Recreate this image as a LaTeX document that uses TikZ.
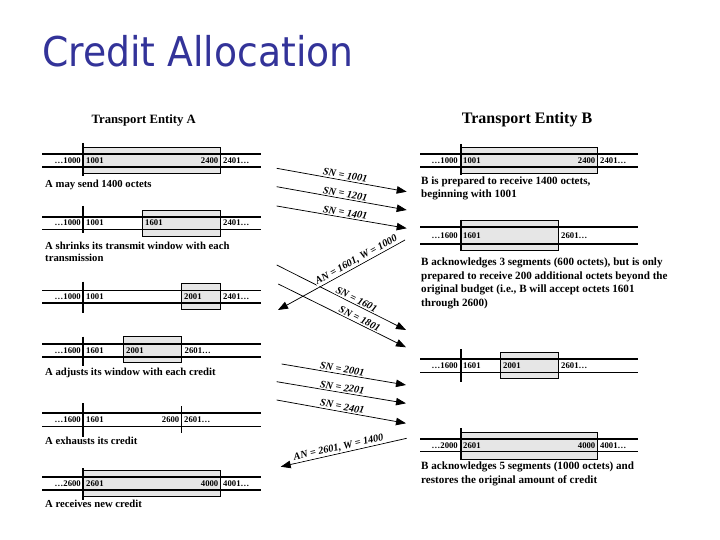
\documentclass[tikz,border=0pt]{standalone}
\usepackage{fontspec}
\setmainfont{Liberation Serif}
\newfontfamily\titlefont{DejaVu Sans}
\usetikzlibrary{arrows.meta}
\definecolor{titleblue}{RGB}{51,51,153}
\definecolor{winfill}{RGB}{230,230,230}
\begin{document}
\begin{tikzpicture}[x=1pt,y=-1pt,
  thickln/.style={line width=2.2pt},
  thinln/.style={line width=0.8pt},
  win/.style={fill=winfill,draw=black,line width=0.8pt},
  tickln/.style={line width=2.2pt},
  num/.style={font=\bfseries\fontsize{8.7}{10}\selectfont,inner sep=0pt},
  numl/.style={num,anchor=base east},
  numr/.style={num,anchor=base west},
  capt/.style={font=\bfseries\fontsize{10.7}{12.5}\selectfont,inner sep=0pt,anchor=base west},
  captb/.style={font=\bfseries\fontsize{11.1}{12.5}\selectfont,inner sep=0pt,anchor=base west},
  hdr/.style={font=\bfseries\fontsize{#1}{#1}\selectfont,inner sep=0pt,anchor=base},
  arr/.style={line width=0.75pt,-{Triangle[length=10pt,width=7.5pt]}},
  arrl/.style={line width=0.75pt,{Triangle[length=10pt,width=7.5pt]}-},
  lab/.style={font=\bfseries\itshape\fontsize{10.3}{11}\selectfont,fill=white,inner sep=1pt,sloped,above=0.3pt}
]
\useasboundingbox (0,0) rectangle (720,540);

% title
\node[anchor=base west,inner sep=0pt,text=titleblue,font=\titlefont\fontsize{41}{41}\selectfont] (title) at (42,67) {\scalebox{0.92}[1]{Credit Allocation}};

% headers
\node[hdr=12.7] (hA) at (143.7,124) {Transport Entity A};
\node[hdr=16] (hB) at (527,123.5) {Transport Entity B};

% ---------- Entity A ----------
% A1
\filldraw[win] (83.3,147.3) rectangle (220.7,173.3);
\draw[thickln] (42,154) -- (260.7,154);
\draw[thickln] (42,166.7) -- (260.7,166.7);
\draw[tickln] (83.3,143) -- (83.3,176);
\node[numl] (a1l) at (81,163.2) {…1000};
\node[numr] (a1a) at (86,163.2) {1001};
\node[numl] (a1b) at (218.5,163.2) {2400};
\node[numr] (a1r) at (223,163.2) {2401…};
\node[capt] (ca1) at (45,188) {A may send 1400 octets};

% A2
\filldraw[win] (142.7,210) rectangle (220.7,236.7);
\draw[thickln] (42,216.7) -- (260.7,216.7);
\draw[thinln] (42,229.3) -- (260.7,229.3);
\draw[tickln] (83.3,206) -- (83.3,232.7);
\node[numl] (a2l) at (81,225.8) {…1000};
\node[numr] (a2a) at (86,225.8) {1001};
\node[numr] (a2b) at (145,225.8) {1601};
\node[numr] (a2r) at (223,225.8) {2401…};
\node[capt] (ca2) at (45,249) {A shrinks its transmit window with each};
\node[capt] (ca2b) at (45,261) {transmission};

% A3
\filldraw[win] (181.7,283.3) rectangle (220.7,309.3);
\draw[thinln] (42,290) -- (260.7,290);
\draw[thickln] (42,303.3) -- (260.7,303.3);
\draw[tickln] (83.3,281.7) -- (83.3,313.3);
\node[numl] (a3l) at (81,299.5) {…1000};
\node[numr] (a3a) at (86,299.5) {1001};
\node[numr] (a3b) at (184,299.5) {2001};
\node[numr] (a3r) at (223,299.5) {2401…};

% A4
\filldraw[win] (123.3,336.7) rectangle (181.7,362.7);
\draw[thickln] (42,344) -- (260.7,344);
\draw[thickln] (42,357.3) -- (260.7,357.3);
\draw[tickln] (83.3,336.7) -- (83.3,366);
\node[numl] (a4l) at (81,353.5) {…1600};
\node[numr] (a4a) at (86,353.5) {1601};
\node[numr] (a4b) at (126,353.5) {2001};
\node[numr] (a4r) at (184.5,353.5) {2601…};
\node[capt] (ca4) at (45,375) {A adjusts its window with each credit};

% A5
\draw[thickln] (42,412.7) -- (260.7,412.7);
\draw[thinln] (42,426) -- (260.7,426);
\draw[tickln] (83.3,403.3) -- (83.3,436.7);
\draw[thinln] (181.7,406) -- (181.7,432.7);
\node[numl] (a5l) at (81,422.1) {…1600};
\node[numr] (a5a) at (86,422.1) {1601};
\node[numl] (a5b) at (179.5,422.1) {2600};
\node[numr] (a5r) at (184,422.1) {2601…};
\node[capt] (ca5) at (45,444) {A exhausts its credit};

% A6
\filldraw[win] (83.3,470) rectangle (220.7,496);
\draw[thickln] (42,477.3) -- (260.7,477.3);
\draw[thickln] (42,490) -- (260.7,490);
\draw[tickln] (83.3,468.3) -- (83.3,500);
\node[numl] (a6l) at (81,486.5) {…2600};
\node[numr] (a6a) at (86,486.5) {2601};
\node[numl] (a6b) at (218.5,486.5) {4000};
\node[numr] (a6r) at (223,486.5) {4001…};
\node[capt] (ca6) at (45,507) {A receives new credit};

% ---------- Entity B ----------
% B1
\filldraw[win] (460.7,147.3) rectangle (597.7,173.3);
\draw[thickln] (420,154) -- (638.3,154);
\draw[thickln] (420,166.7) -- (638.3,166.7);
\draw[tickln] (460.7,144) -- (460.7,175);
\node[numl] (b1l) at (458,163.2) {…1000};
\node[numr] (b1a) at (463,163.2) {1001};
\node[numl] (b1b) at (595.5,163.2) {2400};
\node[numr] (b1r) at (600,163.2) {2401…};
\node[captb] (cb1) at (421,184.5) {B is prepared to receive 1400 octets,};
\node[captb] (cb1b) at (421,197.5) {beginning with 1001};

% B2
\filldraw[win] (460.7,220.7) rectangle (558.3,250.7);
\draw[thickln] (420,226.7) -- (638.3,226.7);
\draw[thickln] (420,244) -- (638.3,244);
\draw[tickln] (460.7,220) -- (460.7,250.7);
\node[numl] (b2l) at (458,238.1) {…1600};
\node[numr] (b2a) at (463,238.1) {1601};
\node[numr] (b2r) at (561,238.1) {2601…};
\node[captb] (cb2) at (421,265.5) {B acknowledges 3 segments (600 octets), but is only};
\node[captb] (cb2b) at (421,279) {prepared to receive 200 additional octets beyond the};
\node[captb] (cb2c) at (421,292.5) {original budget (i.e., B will accept octets 1601};
\node[captb] (cb2d) at (421,306) {through 2600)};

% B3
\filldraw[win] (500.7,352.3) rectangle (558.3,378.3);
\draw[thickln] (420,359) -- (638.3,359);
\draw[thinln] (420,372.3) -- (638.3,372.3);
\draw[tickln] (460.7,349.3) -- (460.7,381.7);
\node[numl] (b3l) at (458,368.5) {…1600};
\node[numr] (b3a) at (463,368.5) {1601};
\node[numr] (b3b) at (503,368.5) {2001};
\node[numr] (b3r) at (561,368.5) {2601…};

% B4
\filldraw[win] (460.7,432.7) rectangle (597.7,459.3);
\draw[thickln] (420,439.3) -- (638.3,439.3);
\draw[thinln] (420,451.7) -- (638.3,451.7);
\draw[tickln] (460.7,428.3) -- (460.7,460);
\node[numl] (b4l) at (458,448.3) {…2000};
\node[numr] (b4a) at (463,448.3) {2601};
\node[numl] (b4b) at (595.5,448.3) {4000};
\node[numr] (b4r) at (600,448.3) {4001…};
\node[captb] (cb4) at (421,469.5) {B acknowledges 5 segments (1000 octets) and};
\node[captb] (cb4b) at (421,483) {restores the original amount of credit};

% ---------- segments and acks ----------
\coordinate (s1a) at (276.7,168.3); \coordinate (s1b) at (406.7,191.7);
\coordinate (s2a) at (276.7,186.7); \coordinate (s2b) at (406.7,210);
\coordinate (s3a) at (276.7,206);   \coordinate (s3b) at (406.7,228.3);
\coordinate (k1a) at (278,310);     \coordinate (k1b) at (405,240);
\coordinate (s4a) at (276.7,265);   \coordinate (s4b) at (406,330);
\coordinate (s5a) at (278.3,284);   \coordinate (s5b) at (406,347.3);
\coordinate (s6a) at (281.7,364);   \coordinate (s6b) at (406,385);
\coordinate (s7a) at (276.7,381.7); \coordinate (s7b) at (406,403.3);
\coordinate (s8a) at (276.7,400);   \coordinate (s8b) at (406,423.3);
\coordinate (k2a) at (280.7,466.7); \coordinate (k2b) at (406.7,438.3);

\draw[arr] (s1a) -- node[lab,pos=0.52] (l1) {SN = 1001} (s1b);
\draw[arr] (s2a) -- node[lab,pos=0.52] (l2) {SN = 1201} (s2b);
\draw[arr] (s3a) -- node[lab,pos=0.52] (l3) {SN = 1401} (s3b);
\draw[arr] (s4a) -- node[lab,pos=0.6] (l4) {SN = 1601} (s4b);
\draw[arr] (s5a) -- node[lab,pos=0.62] (l5) {SN = 1801} (s5b);
\draw[arrl] (k1a) -- node[lab,pos=0.64] (lk1) {AN = 1601, W = 1000} (k1b);
\draw[arr] (s6a) -- node[lab,pos=0.48] (l6) {SN = 2001} (s6b);
\draw[arr] (s7a) -- node[lab,pos=0.5] (l7) {SN = 2201} (s7b);
\draw[arr] (s8a) -- node[lab,pos=0.5] (l8) {SN = 2401} (s8b);
\draw[arrl] (k2a) -- node[lab,pos=0.47] (lk2) {AN = 2601, W = 1400} (k2b);
\end{tikzpicture}
\end{document}
